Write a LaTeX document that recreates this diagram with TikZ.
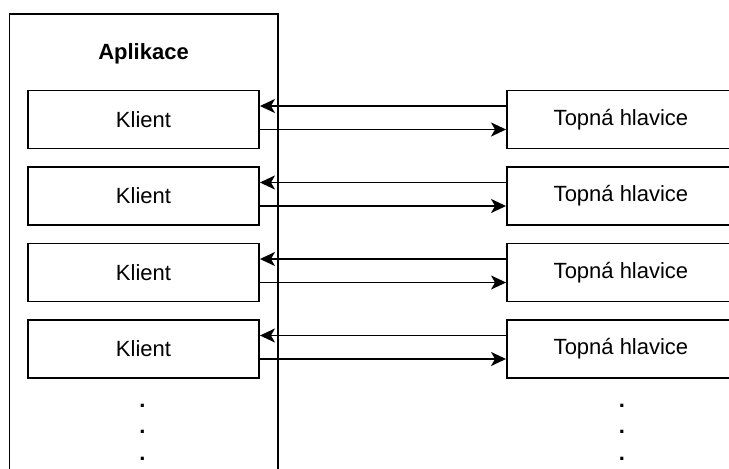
\documentclass[tikz,border=0pt]{standalone}
\usepackage{fontspec}
\setmainfont{Liberation Sans}
\usetikzlibrary{arrows.meta}
\begin{document}
\begin{tikzpicture}[x=1pt,y=-1pt,
  box/.style={draw=black,line width=1.9pt,fill=white,inner sep=0pt,
    font=\fontsize{22}{26}\selectfont},
  klientbox/.style={box,minimum width=231pt,minimum height=58pt},
  hlavbox/.style={box,minimum width=228pt,minimum height=58pt},
  conn/.style={line width=1.9pt,-{Stealth[length=15pt,width=14pt,inset=4pt]}},
  dot/.style={inner sep=0pt,anchor=base,font=\fontsize{22}{26}\selectfont\bfseries}
]
\useasboundingbox (0,0) rectangle (729,469);
\clip (0,0) rectangle (729,469);
\fill[white] (0,0) rectangle (729,469);
% container
\draw[line width=1.9pt] (9.5,500) -- (9.5,14) -- (278,14) -- (278,500);
\node[font=\fontsize{22}{26}\selectfont\bfseries] (apl) at (143.5,54) {Aplikace};
% rows
\foreach \i/\y in {1/119.5,2/196,3/272.5,4/349}{
  \node[klientbox] (k\i) at (143.5,\y) {Klient};
  \node[hlavbox] (h\i) at (621,\y) {Topná hlavice};
  \draw[conn] ([yshift=13.5pt]h\i.west) -- ([yshift=13.5pt]k\i.east);
  \draw[conn] ([yshift=-10pt]k\i.east) -- ([yshift=-10pt]h\i.west);
}
% ellipsis dots
\foreach \j/\y in {1/406,2/432,3/459}{
  \node[dot] (ld\j) at (142.5,\y+1.7) {.};
  \node[dot] (rd\j) at (622,\y+1.7) {.};
}
\end{tikzpicture}
\end{document}
